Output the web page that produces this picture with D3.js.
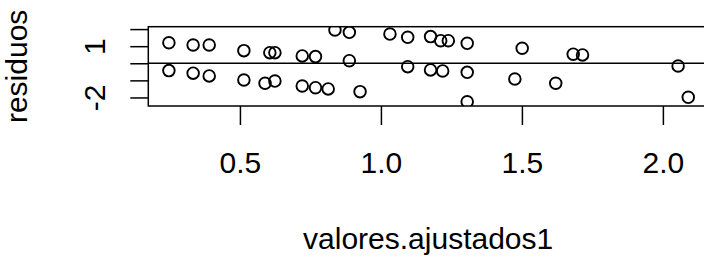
<!DOCTYPE html>
<html lang="es">
<head>
    <meta charset="UTF-8">
    <title>residuos vs valores ajustados</title>
    <script src="https://d3js.org/d3.v7.min.js"></script>
    <style>
        body { margin: 0; background: white; }
        svg { display: block; }
        text { font-family: "Liberation Sans", Arial, sans-serif; font-size: 30px; fill: black; }
        .tick line { stroke: black; stroke-width: 1.5px; }
    </style>
</head>
<body>
    <div id="chart"></div>
    <script>
        // valores ajustados (x) y residuos (y)
        const ajustados = [
            0.248, 0.248, 0.334, 0.391, 0.334, 0.391, 0.514, 0.514, 0.606, 0.624,
            0.589, 0.624, 0.721, 0.768, 0.721, 0.768, 0.813, 0.837, 0.888, 0.888,
            0.926, 1.032, 1.095, 1.095, 1.176, 1.212, 1.239, 1.306, 1.501, 1.682,
            1.715, 1.176, 1.219, 1.306, 1.475, 1.620, 2.054, 2.090, 1.306
        ];
        const residuos = [
            1.20, -0.43, 1.07, 1.07, -0.58, -0.74, 0.74, -0.98, 0.62, 0.62,
            -1.17, -1.04, 0.43, 0.39, -1.33, -1.43, -1.50, 1.95, 1.81, 0.15,
            -1.66, 1.71, 1.52, -0.20, 1.56, 1.32, 1.32, 1.17, 0.88, 0.53,
            0.49, -0.39, -0.45, -0.53, -0.92, -1.17, -0.16, -1.99, -2.25
        ];
        const xTicks = [0.5, 1.0, 1.5, 2.0];
        const yTicks = [-2, -1, 0, 1, 2];
        const yTickLabels = { "1": "1", "-2": "-2" };   // R solo dibujó estas

        const width = 704, height = 257;
        const box = { left: 148.3, right: 708, top: 26.7, bottom: 106 };

        const x = d3.scaleLinear().domain([0.175, 2.16]).range([box.left, box.right]);
        const y = d3.scaleLinear().domain([-2.5, 2.14]).range([box.bottom, box.top]);

        const svg = d3.select("#chart").append("svg")
            .attr("width", width)
            .attr("height", height);

        svg.append("rect").attr("width", width).attr("height", height).attr("fill", "white");

        svg.append("clipPath").attr("id", "clip")
            .append("rect")
            .attr("x", box.left).attr("y", box.top)
            .attr("width", box.right - box.left).attr("height", box.bottom - box.top);

        // ejes
        const xAxis = svg.append("g")
            .attr("transform", `translate(0,${box.bottom})`)
            .call(d3.axisBottom(x).tickValues(xTicks).tickFormat(d3.format(".1f"))
                .tickSize(19).tickSizeOuter(0));
        xAxis.select(".domain").remove();
        xAxis.selectAll("text").attr("dy", null).attr("y", 67);

        const yAxis = svg.append("g")
            .attr("transform", `translate(${box.left},0)`)
            .call(d3.axisLeft(y).tickValues(yTicks)
                .tickFormat(d => yTickLabels[String(d)] || "")
                .tickSize(18).tickSizeOuter(0));
        yAxis.select(".domain").remove();
        yAxis.selectAll("text")
            .attr("x", null).attr("dy", null)
            .attr("text-anchor", "middle")
            .attr("transform", "translate(-43,0) rotate(-90)");

        svg.selectAll(".tick text").style("font-size", "30px").style("font-family", "\"Liberation Sans\", Arial, sans-serif");

        // línea horizontal en cero
        svg.append("line")
            .attr("clip-path", "url(#clip)")
            .attr("x1", box.left).attr("x2", box.right)
            .attr("y1", y(0)).attr("y2", y(0))
            .attr("stroke", "black").attr("stroke-width", 1.5);

        // puntos
        svg.append("g").attr("clip-path", "url(#clip)")
            .selectAll("circle")
            .data(ajustados.map((v, i) => [v, residuos[i]]))
            .enter().append("circle")
            .attr("cx", d => x(d[0]))
            .attr("cy", d => y(d[1]))
            .attr("r", 5.8)
            .attr("fill", "none")
            .attr("stroke", "black")
            .attr("stroke-width", 1.9);

        // marco
        svg.append("rect")
            .attr("x", box.left).attr("y", box.top)
            .attr("width", box.right - box.left).attr("height", box.bottom - box.top)
            .attr("fill", "none").attr("stroke", "black").attr("stroke-width", 1.5);

        // títulos
        svg.append("text")
            .attr("x", (box.left + box.right) / 2)
            .attr("y", 249)
            .attr("text-anchor", "middle")
            .text("valores.ajustados1");

        svg.append("text")
            .attr("transform", `translate(27,${(box.top + box.bottom) / 2}) rotate(-90)`)
            .attr("text-anchor", "middle")
            .text("residuos");
    </script>
</body>
</html>
